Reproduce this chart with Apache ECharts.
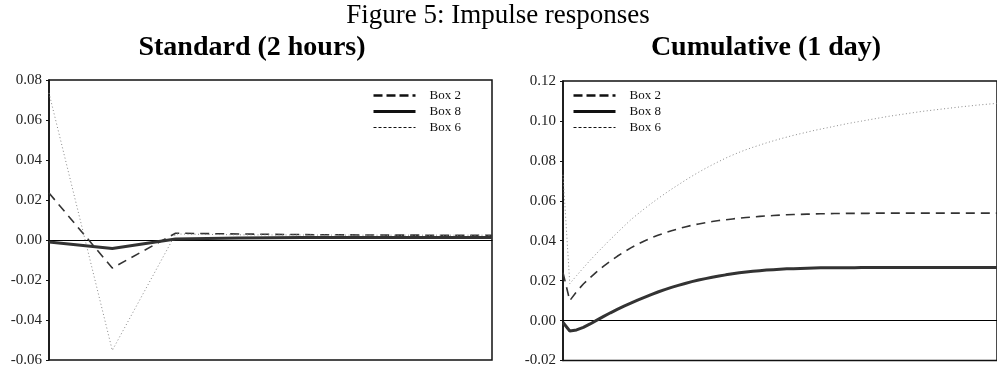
<!DOCTYPE html>
<html>
<head>
<meta charset="utf-8">
<script src="https://cdn.jsdelivr.net/npm/echarts@6/dist/echarts.min.js"></script>
<style>
  html, body { margin: 0; padding: 0; background: #fff; }
  #chart { width: 997px; height: 368px; }
</style>
</head>
<body>
<div id="chart"></div>
<script>
// figure texts
const figureTitle = 'Figure 5: Impulse responses';
const panelTitles = ['Standard (2 hours)', 'Cumulative (1 day)'];
const seriesNames = ['Box 2', 'Box 8', 'Box 6'];

// y axis ranges (tick step 0.02)
const stdTicks = [-0.06, 0.08];
const cumTicks = [-0.02, 0.12];

// standard responses, one value per 2-hour step
const stdBox2 = [0.0235, -0.0140, 0.0034, 0.0030, 0.0027, 0.0025, 0.0024, 0.0023];
const stdBox8 = [-0.0010, -0.0043, 0.0005, 0.0010, 0.0012, 0.0013, 0.0013, 0.0013];
const stdBox6 = [0.0735, -0.0552, 0.0030, 0.0026, 0.0025, 0.0024, 0.0024, 0.0024];

// cumulative responses
const cumBox2 = [
  0.0240, 0.0100, 0.0145, 0.0183, 0.0215, 0.0245, 0.0273, 0.0298, 0.0322, 0.0344,
  0.0364, 0.0382, 0.0399, 0.0414, 0.0427, 0.0439, 0.0450, 0.0460, 0.0469, 0.0477,
  0.0484, 0.0490, 0.0496, 0.0501, 0.0505, 0.0509, 0.0513, 0.0516, 0.0519, 0.0522,
  0.0524, 0.0526, 0.0528, 0.0530, 0.0531, 0.0532, 0.0533, 0.0534, 0.0535, 0.0535,
  0.0536, 0.0536, 0.0537, 0.0537, 0.0537, 0.0537, 0.0538, 0.0538, 0.0538, 0.0538,
  0.0538, 0.0538, 0.0538, 0.0538, 0.0538, 0.0538, 0.0538, 0.0538, 0.0538, 0.0538,
  0.0538, 0.0538, 0.0538, 0.0538, 0.0538
];
const cumBox8 = [
  -0.0010, -0.0052, -0.0047, -0.0034, -0.0017, 0.0002, 0.0021, 0.0039, 0.0056, 0.0072,
  0.0087, 0.0102, 0.0116, 0.0130, 0.0143, 0.0155, 0.0166, 0.0176, 0.0186, 0.0195,
  0.0203, 0.0210, 0.0217, 0.0223, 0.0229, 0.0234, 0.0239, 0.0243, 0.0247, 0.0250,
  0.0253, 0.0255, 0.0257, 0.0259, 0.0260, 0.0261, 0.0262, 0.0263, 0.0264, 0.0264,
  0.0265, 0.0265, 0.0265, 0.0265, 0.0266, 0.0266, 0.0266, 0.0266, 0.0266, 0.0266,
  0.0266, 0.0266, 0.0266, 0.0266, 0.0266, 0.0266, 0.0266, 0.0266, 0.0266, 0.0266,
  0.0266, 0.0266, 0.0266, 0.0266, 0.0266
];
const cumBox6 = [
  0.0730, 0.0185, 0.0225, 0.0264, 0.0302, 0.0338, 0.0373, 0.0407, 0.0440, 0.0473,
  0.0505, 0.0533, 0.0560, 0.0586, 0.0611, 0.0635, 0.0658, 0.0680, 0.0702, 0.0723,
  0.0743, 0.0762, 0.0780, 0.0797, 0.0814, 0.0829, 0.0843, 0.0856, 0.0868, 0.0879,
  0.0890, 0.0900, 0.0910, 0.0919, 0.0928, 0.0936, 0.0944, 0.0952, 0.0959, 0.0966,
  0.0973, 0.0980, 0.0987, 0.0993, 0.0999, 0.1005, 0.1011, 0.1017, 0.1023, 0.1028,
  0.1033, 0.1038, 0.1043, 0.1048, 0.1052, 0.1056, 0.1060, 0.1064, 0.1068, 0.1072,
  0.1075, 0.1079, 0.1082, 0.1085, 0.1088
];

const FONT = '"Liberation Serif", "Times New Roman", serif';

const styles = {
  'Box 2': { color: '#333', width: 1.6, type: [9, 6] },
  'Box 8': { color: '#333', width: 3, type: 'solid' },
  'Box 6': { color: '#888', width: 1, type: [1, 2.5] }
};

const toPairs = (arr) => arr.map((v, i) => [i, v]);

function makeSeries(name, data, idx) {
  return {
    name,
    type: 'line',
    xAxisIndex: idx,
    yAxisIndex: idx,
    data: toPairs(data),
    symbol: 'none',
    smooth: false,
    itemStyle: { color: styles[name].color },
    lineStyle: Object.assign({}, styles[name]),
    z: name === 'Box 8' ? 3 : 2
  };
}

function yAxis(idx, range) {
  return {
    type: 'value',
    gridIndex: idx,
    min: range[0],
    max: range[1],
    interval: 0.02,
    axisLine: { show: true, lineStyle: { color: '#111', width: 1.5 } },
    axisTick: { show: true, length: 3, lineStyle: { color: '#111' } },
    splitLine: { show: false },
    axisLabel: {
      formatter: (v) => v.toFixed(2),
      fontFamily: FONT, fontSize: 15, color: '#222', margin: 7
    }
  };
}

function xAxis(idx, max) {
  return {
    type: 'value',
    gridIndex: idx,
    min: 0,
    max,
    axisLine: { show: true, onZero: true, lineStyle: { color: '#000', width: 1 } },
    axisTick: { show: false },
    axisLabel: { show: false },
    splitLine: { show: false }
  };
}

// legend marks drawn as plain lines (no symbol)
const hidden = { color: 'transparent', opacity: 0, borderWidth: 0 };
const legendData = [
  { name: 'Box 2', itemStyle: hidden, lineStyle: { color: '#111', width: 2.5, type: [9, 4] } },
  { name: 'Box 8', itemStyle: hidden, lineStyle: { color: '#111', width: 3, type: 'solid' } },
  { name: 'Box 6', itemStyle: hidden, lineStyle: { color: '#111', width: 1, type: [3, 2] } }
];

function legend(left, top) {
  return {
    orient: 'vertical',
    left, top,
    padding: 0,
    itemWidth: 42,
    itemHeight: 12,
    itemGap: 3,
    selectedMode: false,
    data: legendData,
    textStyle: { fontFamily: FONT, fontSize: 13, color: '#111', padding: [0, 0, 0, 9] }
  };
}

const chart = echarts.init(document.getElementById('chart'), null, { renderer: 'canvas' });

chart.setOption({
  animation: false,
  backgroundColor: '#fff',
  graphic: [
    { type: 'text', x: 498, y: 16, style: { text: figureTitle, font: '27px ' + FONT, fill: '#000', textAlign: 'center', textVerticalAlign: 'middle' } },
    { type: 'text', x: 252, y: 48, style: { text: panelTitles[0], font: 'bold 28px ' + FONT, fill: '#000', textAlign: 'center', textVerticalAlign: 'middle' } },
    { type: 'text', x: 766, y: 48, style: { text: panelTitles[1], font: 'bold 28px ' + FONT, fill: '#000', textAlign: 'center', textVerticalAlign: 'middle' } }
  ],
  grid: [
    { left: 49, top: 80, width: 443, height: 280, show: true, borderColor: '#111', borderWidth: 1.5, backgroundColor: 'transparent' },
    { left: 563, top: 81, width: 443, height: 280, show: true, borderColor: '#111', borderWidth: 1.5, backgroundColor: 'transparent' }
  ],
  xAxis: [xAxis(0, stdBox2.length - 1), xAxis(1, cumBox2.length - 1)],
  yAxis: [yAxis(0, stdTicks), yAxis(1, cumTicks)],
  legend: [legend(372, 89), legend(572, 89)],
  series: [
    makeSeries('Box 2', stdBox2, 0),
    makeSeries('Box 8', stdBox8, 0),
    makeSeries('Box 6', stdBox6, 0),
    makeSeries('Box 2', cumBox2, 1),
    makeSeries('Box 8', cumBox8, 1),
    makeSeries('Box 6', cumBox6, 1)
  ]
});
</script>
</body>
</html>
